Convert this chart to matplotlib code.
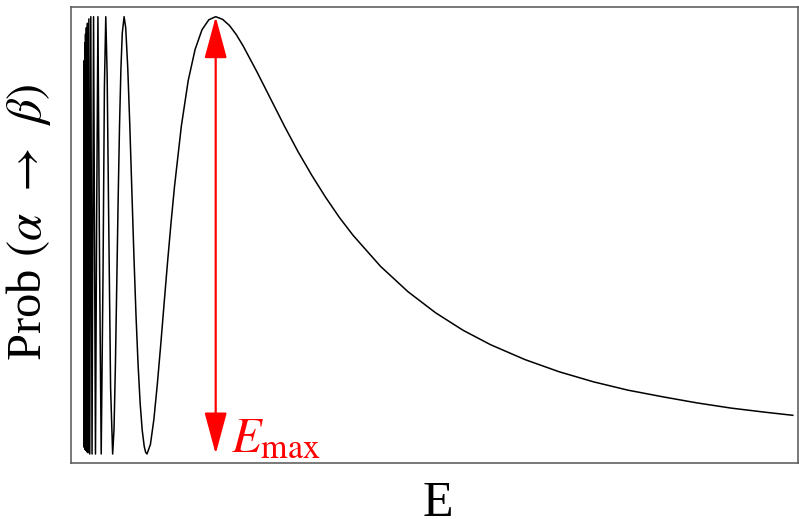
import matplotlib
matplotlib.use("Agg")
import matplotlib.pyplot as plt
from matplotlib.patches import FancyArrowPatch

plt.rcParams['font.family'] = ['Liberation Serif', 'DejaVu Serif']
plt.rcParams['mathtext.fontset'] = 'stix'

# Energy in units of E_max, probability
energy = [0.0410, 0.0417, 0.0435, 0.0455, 0.0476, 0.0500, 0.0526, 0.0556, 0.0588,
          0.0625, 0.0667, 0.0714, 0.0769, 0.0833, 0.0909, 0.1000, 0.1111, 0.1250,
          0.134, 0.1429, 0.155, 0.1667, 0.18, 0.19, 0.20, 0.21, 0.22, 0.235, 0.25,
          0.26, 0.27, 0.28, 0.29, 0.30, 0.31, 0.32, 0.3333, 0.345, 0.36, 0.375,
          0.39, 0.405, 0.42, 0.435, 0.45, 0.465, 0.48, 0.49, 0.50, 0.525, 0.55,
          0.575, 0.60, 0.625, 0.65, 0.675, 0.70, 0.75, 0.80, 0.85, 0.90, 0.95, 1.00,
          1.05, 1.10, 1.15, 1.20, 1.30, 1.40, 1.50, 1.60, 1.70, 1.80, 1.90, 2.00,
          2.20, 2.40, 2.60, 2.80, 3.00, 3.25, 3.50, 3.75, 4.00, 4.25, 4.50, 4.75,
          5.00, 5.20]
prob = [0.65, 0.016, 0.90, 0.015, 0.94, 0.010, 0.96, 0.008, 0.975,
        0.005, 0.985, 0.003, 0.995, 0.0, 1.0, 0.0, 1.0, 0.0,
        0.559, 1.0, 0.424, 0.0, 0.413, 0.839, 1.0, 0.867, 0.571, 0.152, 0.0,
        0.057, 0.201, 0.389, 0.581, 0.750, 0.879, 0.962, 1.0, 0.975, 0.883, 0.750,
        0.600, 0.451, 0.317, 0.205, 0.117, 0.055, 0.017, 0.004, 0.0, 0.022, 0.079,
        0.159, 0.250, 0.346, 0.440, 0.529, 0.611, 0.750, 0.854, 0.925, 0.970, 0.993, 1.0,
        0.994, 0.980, 0.959, 0.933, 0.874, 0.812, 0.750, 0.691, 0.637, 0.587, 0.541, 0.500,
        0.429, 0.371, 0.323, 0.283, 0.250, 0.216, 0.188, 0.165, 0.146, 0.131, 0.117, 0.105,
        0.0955, 0.0885]

e_max = 1.0
x_label = "E"
y_label = r"Prob $(\alpha\;\,\rightarrow\;\,\beta)$"
arrow_label = r"$E_{\mathrm{max}}$"

fig = plt.figure(figsize=(7.99, 5.19), dpi=100)
ax = fig.add_axes([71 / 799, 1 - 462.7 / 519, (798 - 71) / 799, (462.7 - 7.3) / 519])

ax.plot(energy, prob, color='black', lw=1.1, solid_joinstyle='round')

ax.set_xlim(-0.0531, 5.238)
ax.set_ylim(-0.0199, 1.0215)
ax.set_xticks([])
ax.set_yticks([])
for sp in ax.spines.values():
    sp.set_color('#555555')
    sp.set_linewidth(1.1)

arrow = FancyArrowPatch((e_max, 0.0), (e_max, 1.0), arrowstyle='<|-|>,head_length=26,head_width=7',
                        mutation_scale=1, color='red', lw=1.6, shrinkA=0, shrinkB=0)
ax.add_patch(arrow)
ax.text(e_max + 0.11, 0.005, arrow_label, color='red', fontsize=35, ha='left', va='baseline')

fig.text(438 / 799, 3 / 519, x_label, fontsize=36, ha='center', va='baseline')
fig.text(29 / 799, 1 - 222 / 519, y_label, fontsize=35, rotation=90, ha='center', va='center')

fig.savefig("out.png", dpi=100)
